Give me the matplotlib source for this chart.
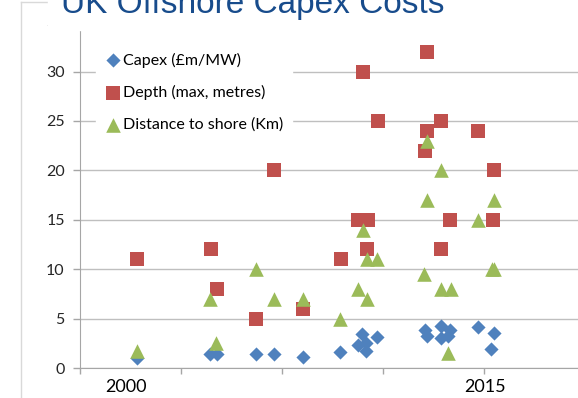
import matplotlib
matplotlib.use("Agg")
import matplotlib.pyplot as plt
from matplotlib.patches import Rectangle
from matplotlib.lines import Line2D

# commissioning year (decimal) and value for each wind farm
capex_year = [2000.46, 2003.51, 2003.80, 2005.43, 2006.18, 2007.40, 2008.94,
              2009.71, 2009.88, 2010.05, 2010.05, 2010.49, 2012.49, 2012.58,
              2013.15, 2013.15, 2013.54, 2013.46, 2014.71, 2015.38, 2015.25]
capex_val = [1.0, 1.4, 1.4, 1.4, 1.4, 1.1, 1.6,
             2.3, 3.4, 2.5, 1.7, 3.1, 3.8, 3.2,
             4.3, 3.0, 3.8, 3.2, 4.2, 3.5, 1.9]

depth_year = [2000.46, 2003.55, 2003.80, 2005.43, 2006.18, 2007.40, 2008.98,
              2009.69, 2009.90, 2010.11, 2010.07, 2010.53, 2012.49, 2012.58,
              2012.58, 2013.16, 2013.16, 2013.54, 2014.71, 2015.34, 2015.38]
depth_val = [11, 12, 8, 5, 20, 6, 11,
             15, 30, 15, 12, 25, 22, 24,
             32, 25, 12, 15, 24, 15, 20]

dist_year = [2000.46, 2003.51, 2003.76, 2005.43, 2006.18, 2007.40, 2008.94,
             2009.69, 2009.90, 2010.07, 2010.07, 2010.49, 2012.45, 2012.58,
             2012.58, 2013.16, 2013.16, 2013.58, 2013.46, 2014.71, 2015.30,
             2015.38, 2015.38]
dist_val = [1.7, 7, 2.5, 10, 7, 7, 5,
            8, 14, 7, 11, 11, 9.5, 17,
            23, 20, 8, 8, 1.5, 15, 10,
            10, 17]

year_labels = [2000, 2015]
y_ticks = [0, 5, 10, 15, 20, 25, 30, 35]
x_ticks = [1998.08, 2002.30, 2006.52, 2010.74, 2014.96]

BLUE = "#4F81BD"
RED = "#C0504D"
GREEN = "#9BBB59"
AXIS_GREY = "#A6A6A6"
GRID_GREY = "#BFBFBF"

plt.rcParams["font.family"] = ["Lato", "DejaVu Sans"]

W, H = 578, 398
fig = plt.figure(figsize=(W / 100, H / 100), dpi=100)
ax = fig.add_axes([80 / W, 30 / H, 498 / W, 345.8 / H])

ax.scatter(capex_year, capex_val, marker="D", s=52, color=BLUE, lw=0,
           label="Capex (£m/MW)", zorder=3)
ax.scatter(depth_year, depth_val, marker="s", s=104, color=RED, lw=0,
           label="Depth (max, metres)", zorder=4)
ax.scatter(dist_year, dist_val, marker="^", s=110, color=GREEN, lw=0,
           label="Distance to shore (Km)", zorder=5)

ax.set_xlim(1998.08, 2018.89)
ax.set_ylim(0, 35)
ax.set_yticks(y_ticks)
ax.set_xticks(x_ticks)
ax.set_xticklabels([])
ax.tick_params(axis="y", length=5, width=1, color=AXIS_GREY, pad=6,
               labelsize=11.5, labelcolor="#262626")
ax.tick_params(axis="x", length=4, width=1, color=AXIS_GREY)

ax.yaxis.grid(True, color=GRID_GREY, lw=1.0)
ax.set_axisbelow(True)
for side in ["top", "right"]:
    ax.spines[side].set_visible(False)
ax.spines["left"].set_color(AXIS_GREY)
ax.spines["bottom"].set_color(AXIS_GREY)

# year labels sit under the axis, not on the ticks
for yr in year_labels:
    ax.text(yr, -19 / 345.8 * 35, str(yr), ha="center", va="center",
            fontsize=13, color="black", transform=ax.transData, clip_on=False)

leg = ax.legend(loc="upper left", bbox_to_anchor=(95.5 / W, 1 - 43 / H),
                bbox_transform=fig.transFigure, frameon=True, fontsize=11.5,
                handletextpad=0.1, handlelength=1.0, labelspacing=1.1,
                borderpad=0.6, borderaxespad=0)
leg.get_frame().set_facecolor("white")
leg.get_frame().set_edgecolor("white")
leg.get_frame().set_alpha(1)
leg.set_zorder(6)

# slide frame and title placeholder
fig.lines.append(Line2D([20.5 / W, 20.5 / W], [0, 1 - 2 / H], color="#D9D9D9",
                        lw=1, transform=fig.transFigure))
fig.lines.append(Line2D([20.5 / W, 1], [1 - 2 / H, 1 - 2 / H], color="#D9D9D9",
                        lw=1, transform=fig.transFigure))
fig.patches.append(Rectangle((48 / W, 1 - 30 / H), 1, 30 / H, color="white",
                             transform=fig.transFigure, zorder=10))
fig.text(61 / W, 1 - 13 / H, "UK Offshore Capex Costs", fontsize=24,
         family="Liberation Sans", color="#184C8C", va="baseline", zorder=11)

fig.savefig("out.png", dpi=100)
